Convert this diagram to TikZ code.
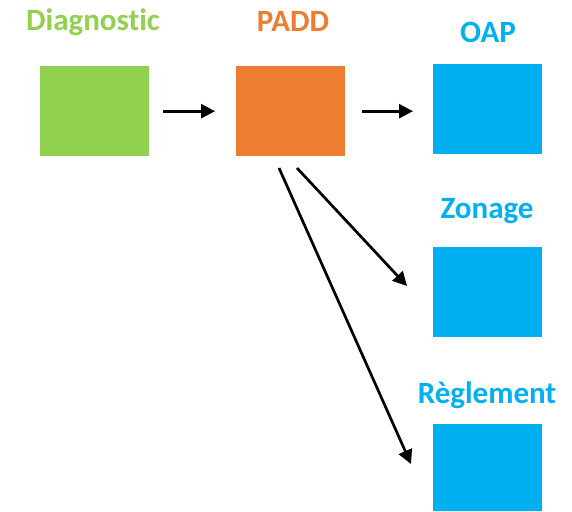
\documentclass[tikz,border=0pt]{standalone}
\usepackage{fontspec}
\setmainfont[Ligatures=CommonOff]{Carlito}
\usetikzlibrary{arrows.meta}
\definecolor{cgreen}{HTML}{92D050}
\definecolor{corange}{HTML}{ED7D31}
\definecolor{cblue}{HTML}{00B0F0}
\tikzset{
  box/.style={minimum width=109pt, minimum height=90pt, inner sep=0pt, draw=none, anchor=north west},
  lbl/.style={font=\bfseries\fontsize{31}{33}\selectfont, anchor=base, inner sep=0pt},
  arr/.style={line width=2.7pt, -{Triangle[length=14pt, width=14pt]}}
}
\begin{document}
\begin{tikzpicture}[x=1pt, y=-1pt]
\useasboundingbox (0,0) rectangle (572,511);
\node[box, fill=cgreen] (diag) at (40,66) {};
\node[box, fill=corange] (padd) at (236,66) {};
\node[box, fill=cblue] (oap) at (433,64) {};
\node[box, fill=cblue] (zon) at (433,247) {};
\node[box, fill=cblue, minimum height=87pt] (reg) at (433,424) {};
\node[lbl, text=cgreen] (tdiag) at (93,31) {Diagnostic};
\node[lbl, text=corange] (tpadd) at (293,32) {PADD};
\node[lbl, text=cblue] (toap) at (488,42) {OAP};
\node[lbl, text=cblue] (tzon) at (487,218) {Zonage};
\node[lbl, text=cblue] (treg) at (487,403) {Règlement};
\coordinate (s1) at (297,168);
\coordinate (e1) at (407,286);
\coordinate (s2) at (279,168);
\coordinate (e2) at (411,464);
\draw[arr, shorten <=14pt, shorten >=21pt] (diag.east) -- (padd.west);
\draw[arr, shorten <=17pt, shorten >=20pt] (padd.east |- diag.east) -- (oap.west |- diag.east);
\draw[arr] (s1) -- (e1);
\draw[arr] (s2) -- (e2);
\end{tikzpicture}
\end{document}
